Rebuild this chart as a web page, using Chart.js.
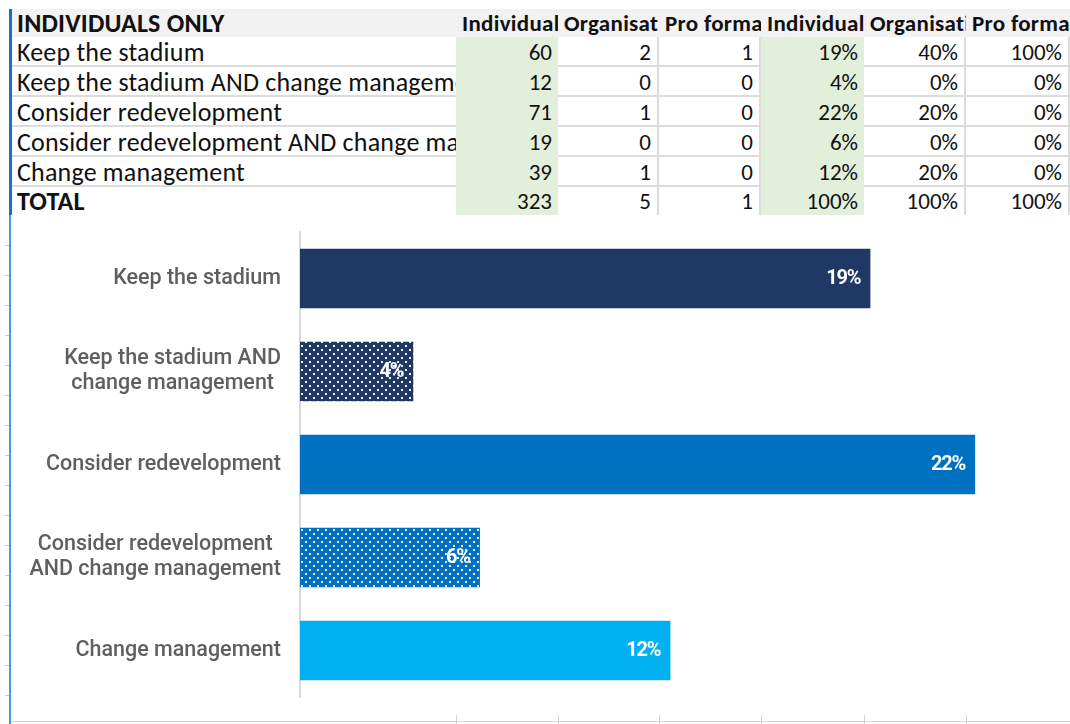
<!DOCTYPE html>
<html>
<head>
<meta charset="utf-8">
<script src="https://cdn.jsdelivr.net/npm/chart.js@4.4.1/dist/chart.umd.min.js"></script>
<style>
  body { margin: 0; background: #fff; width: 1070px; height: 724px; overflow: hidden; position: relative; }
  #sheet { position: absolute; left: 0; top: 0; width: 1070px; height: 216px; font-family: Carlito, Calibri, Lato, sans-serif; font-size: 23px; color: #111; }
  .cell { position: absolute; box-sizing: border-box; padding: 0 6px 0 5px; white-space: nowrap; overflow: hidden; }
  .hdr { background: #f2f2f2; font-weight: bold; letter-spacing: 0.3px; }
  .num { text-align: right; }
  .first { font-size: 26px; letter-spacing: 0.2px; }
  .green { background: #e2efda; }
  .chartBox { position: absolute; left: 12px; top: 216px; width: 1058px; height: 505px; background: #fff; }
  .deco { position: absolute; }
</style>
</head>
<body>
<div id="sheet"></div>
<div class="chartBox"><canvas id="grafica"></canvas></div>
<div id="decor"></div>
<script>
// table + chart data
const categories = ['Keep the stadium', 'Keep the stadium AND change management', 'Consider redevelopment',
  'Consider redevelopment AND change management', 'Change management'];
const chartLabelLines = [['Keep the stadium'], ['Keep the stadium AND', 'change management'], ['Consider redevelopment'],
  ['Consider redevelopment', 'AND change management'], ['Change management']];
const headerLabels = ['INDIVIDUALS ONLY', 'Individual', 'Organisation', 'Pro forma', 'Individual', 'Organisation', 'Pro forma'];
const individualCounts = [60, 12, 71, 19, 39];
const organisationCounts = [2, 0, 1, 0, 1];
const proFormaCounts = [1, 0, 0, 0, 0];
const columnTotals = [323, 5, 1];
const barColors = ['#1f3864', '#1f3864', '#0070c0', '#0070c0', '#00b0f0'];
const barDotted = [false, true, false, true, false];

// sheet geometry
const colLefts = [12, 456, 558, 659, 761, 864, 966, 1070];
const rowTops = [9, 37, 67, 97, 127, 157, 187, 215];
const greenCols = [1, 4];
const lineColor = '#dcdcdc';

const pct = (v, t) => Math.round(v / t * 100) + '%';

const rows = [headerLabels];
categories.forEach((c, i) => {
  rows.push([c, individualCounts[i], organisationCounts[i], proFormaCounts[i],
    pct(individualCounts[i], columnTotals[0]), pct(organisationCounts[i], columnTotals[1]), pct(proFormaCounts[i], columnTotals[2])]);
});
rows.push(['TOTAL', columnTotals[0], columnTotals[1], columnTotals[2], '100%', '100%', '100%']);

const sheet = document.getElementById('sheet');
rows.forEach((row, r) => {
  row.forEach((val, c) => {
    const d = document.createElement('div');
    d.className = 'cell';
    const h = rowTops[r + 1] - rowTops[r];
    d.style.left = colLefts[c] + 'px';
    d.style.top = rowTops[r] + 'px';
    d.style.width = (colLefts[c + 1] - colLefts[c]) + 'px';
    d.style.height = h + 'px';
    d.style.lineHeight = h + 'px';
    d.textContent = val;
    if (c === 0) d.classList.add('first');
    if (r === 0) {
      d.classList.add('hdr');
      d.style.paddingLeft = c === 0 ? '5px' : '6px';
      if (c > 0) d.style.paddingRight = '0';
    } else {
      if (c > 0) d.classList.add('num');
      if (greenCols.includes(c)) d.classList.add('green');
      else {
        if (r < rows.length - 1) d.style.borderBottom = '2px solid ' + lineColor;
        if (c > 0) d.style.borderRight = '2px solid ' + lineColor;
      }
      if (r === rows.length - 1 && c === 0) d.style.fontWeight = 'bold';
    }
    sheet.appendChild(d);
  });
});

// spreadsheet edges around the embedded chart
const decor = document.getElementById('decor');
const addDeco = (l, t, w, h, bg) => {
  const d = document.createElement('div');
  d.className = 'deco';
  Object.assign(d.style, { left: l + 'px', top: t + 'px', width: w + 'px', height: h + 'px', background: bg });
  decor.appendChild(d);
};
addDeco(9, 9, 3, 206, '#1e6fc8');
addDeco(9, 215, 2, 509, '#4d95e0');
for (let y = 245; y < 724; y += 30) addDeco(5, y, 4, 1, '#c8c8c8');
addDeco(12, 721, 1058, 1, '#d4d4d4');
colLefts.slice(1, 7).forEach(x => addDeco(x, 715, 1, 9, '#d4d4d4'));

// dotted fill like the excel pattern
const dotPattern = (base) => {
  const c = document.createElement('canvas');
  c.width = 8; c.height = 8;
  const g = c.getContext('2d');
  g.fillStyle = base;
  g.fillRect(0, 0, 8, 8);
  g.fillStyle = 'rgba(255,255,255,0.92)';
  g.fillRect(1, 1, 2, 2);
  g.fillRect(5, 5, 2, 2);
  return g.createPattern(c, 'repeat');
};

const shares = individualCounts.map(v => v / columnTotals[0]);

const labelPlugin = {
  id: 'labelPlugin',
  afterDatasetsDraw(chart) {
    const ctx = chart.ctx;
    ctx.save();
    ctx.font = 'bold 20px Roboto';
    ctx.letterSpacing = '-1.2px';
    ctx.fillStyle = '#ffffff';
    ctx.textAlign = 'right';
    ctx.textBaseline = 'middle';
    chart.getDatasetMeta(0).data.forEach((bar, i) => {
      ctx.fillText(Math.round(shares[i] * 100) + '%', bar.x - 11, bar.y);
    });
    ctx.restore();
  },
  afterDraw(chart) {
    const ctx = chart.ctx;
    const yScale = chart.scales.y;
    ctx.save();
    ctx.font = '500 21.5px Roboto';
    ctx.fillStyle = '#5f5f5f';
    ctx.textAlign = 'center';
    ctx.textBaseline = 'middle';
    chartLabelLines.forEach((lines, i) => {
      const cy = yScale.getPixelForTick(i);
      const widest = Math.max(...lines.map(l => ctx.measureText(l).width));
      const cx = yScale.right - 19 - widest / 2;
      lines.forEach((l, j) => ctx.fillText(l, cx, cy + (j - (lines.length - 1) / 2) * 25));
    });
    ctx.restore();
  }
};

var ctx = document.getElementById('grafica').getContext('2d');
var chart = new Chart(ctx, {
  type: 'bar',
  data: {
    labels: categories,
    datasets: [{
      data: shares,
      backgroundColor: barColors.map((c, i) => barDotted[i] ? dotPattern(c) : c),
      borderColor: 'rgba(255,255,255,0.3)',
      borderWidth: 1,
      barPercentage: 0.66,
      categoryPercentage: 1
    }]
  },
  options: {
    indexAxis: 'y',
    responsive: true,
    maintainAspectRatio: false,
    animation: false,
    layout: { padding: { top: 16, bottom: 24, right: 1, left: 0 } },
    plugins: { legend: { display: false }, tooltip: { enabled: false } },
    scales: {
      x: { display: false, min: 0, max: 0.25 },
      y: {
        grid: { display: false },
        border: { display: true, color: '#d9d9d9', width: 2 },
        ticks: { display: false },
        afterFit: s => { s.width = 288; }
      }
    }
  },
  plugins: [labelPlugin]
});
</script>
</body>
</html>
